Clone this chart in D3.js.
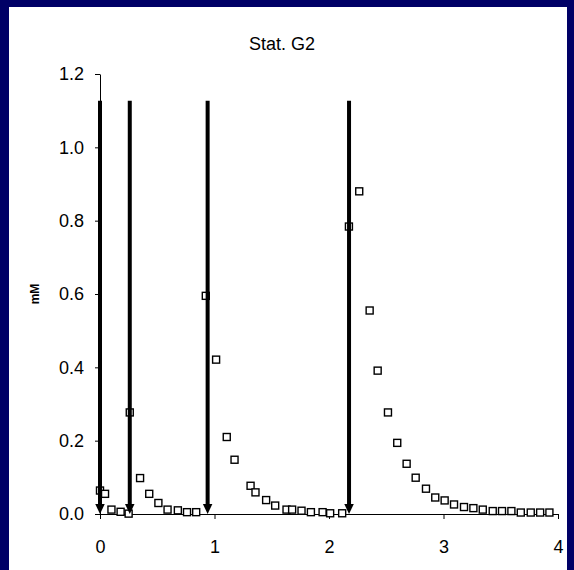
<!DOCTYPE html>
<html>
<head>
<meta charset="utf-8">
<script src="https://cdn.jsdelivr.net/npm/d3@7/dist/d3.min.js"></script>
<style>
  html, body { margin: 0; padding: 0; background: #fff; }
  svg { display: block; }
</style>
</head>
<body>
<script>
// Sampling times (h) and measured concentrations (mM)
const timeH = [
  0.00, 0.044, 0.10, 0.18, 0.25, 0.26, 0.35, 0.43, 0.51, 0.59, 0.68, 0.76, 0.84,
  0.924, 1.014, 1.107, 1.175, 1.315, 1.358, 1.451, 1.530, 1.629, 1.678, 1.760, 1.842, 1.944, 2.010, 2.115,
  2.174, 2.264, 2.355, 2.425, 2.515, 2.596, 2.678, 2.757, 2.847, 2.928, 3.010, 3.092, 3.179,
  3.261, 3.343, 3.430, 3.511, 3.593, 3.675, 3.762, 3.844, 3.925
];
const concMM = [
  0.064, 0.055, 0.012, 0.006, 0.001, 0.277, 0.098, 0.055, 0.030, 0.012, 0.010, 0.005, 0.005,
  0.595, 0.421, 0.210, 0.148, 0.077, 0.059, 0.038, 0.023, 0.012, 0.012, 0.009, 0.005, 0.005, 0.002, 0.002,
  0.784, 0.880, 0.555, 0.391, 0.277, 0.194, 0.137, 0.099, 0.069, 0.045, 0.037, 0.026, 0.019,
  0.016, 0.012, 0.008, 0.008, 0.008, 0.004, 0.004, 0.004, 0.004
];

// Pulse additions, shown as downward arrows
const pulseTimes = [0, 0.26, 0.94, 2.175];
const pulseTop = 1.127;

const xTicks = [0, 1, 2, 3, 4];
const yTicks = [0, 0.2, 0.4, 0.6, 0.8, 1.0, 1.2];
const titleText = "Stat. G2";
const yLabelText = "mM";

const W = 574, H = 570;
const FONT = "'Liberation Sans', Arial, sans-serif";

const svg = d3.select("body").append("svg")
  .attr("width", W).attr("height", H);

// navy frame around a white slide
svg.append("rect").attr("width", W).attr("height", H).attr("fill", "#000066");
svg.append("rect").attr("x", 9).attr("y", 7).attr("width", W - 16).attr("height", H - 7).attr("fill", "#ffffff");

const x = d3.scaleLinear().domain([0, 4]).range([100, 558]);
const y = d3.scaleLinear().domain([0, 1.2]).range([514, 74]);

// title
svg.append("text")
  .attr("x", 282).attr("y", 50)
  .attr("text-anchor", "middle")
  .attr("font-family", FONT).attr("font-size", 18)
  .attr("fill", "#000")
  .text(titleText);

// y axis
const yAxis = svg.append("g")
  .attr("transform", `translate(${x(0)},0)`)
  .call(d3.axisLeft(y).tickValues(yTicks).tickFormat(d3.format(".1f"))
    .tickSize(5).tickSizeOuter(0).tickPadding(11));

// x axis
const xAxis = svg.append("g")
  .attr("transform", `translate(0,${y(0)})`)
  .call(d3.axisBottom(x).tickValues(xTicks).tickFormat(d3.format("d"))
    .tickSize(5).tickSizeOuter(0).tickPadding(21));

[yAxis, xAxis].forEach(g => {
  g.select(".domain").attr("stroke", "#000").attr("stroke-width", 1);
  g.selectAll(".tick line").attr("stroke", "#000").attr("stroke-width", 1);
  g.selectAll(".tick text")
    .attr("font-family", FONT).attr("font-size", 18).attr("fill", "#000");
});

// y axis label
svg.append("text")
  .attr("transform", `translate(39,${(y(0) + y(1.2)) / 2}) rotate(-90)`)
  .attr("text-anchor", "middle")
  .attr("font-family", FONT).attr("font-size", 12).attr("font-weight", "bold")
  .attr("fill", "#000")
  .text(yLabelText);

// data markers: open squares
const S = 7;
svg.append("g").selectAll("rect")
  .data(timeH.map((t, i) => ({ t, c: concMM[i] })))
  .join("rect")
  .attr("x", d => x(d.t) - S / 2)
  .attr("y", d => y(d.c) - S / 2)
  .attr("width", S).attr("height", S)
  .attr("fill", "#fff")
  .attr("stroke", "#000")
  .attr("stroke-width", 1.4);

// pulse arrows
const headH = 10, headW = 9.5;
const arrows = svg.append("g").selectAll("g").data(pulseTimes).join("g");
arrows.append("line")
  .attr("x1", d => x(d)).attr("x2", d => x(d))
  .attr("y1", y(pulseTop)).attr("y2", y(0) - headH + 1)
  .attr("stroke", "#000").attr("stroke-width", 4);
arrows.append("path")
  .attr("d", d => {
    const cx = x(d), tip = y(0);
    return `M${cx - headW / 2},${tip - headH}L${cx + headW / 2},${tip - headH}L${cx},${tip}Z`;
  })
  .attr("fill", "#000");
</script>
</body>
</html>
